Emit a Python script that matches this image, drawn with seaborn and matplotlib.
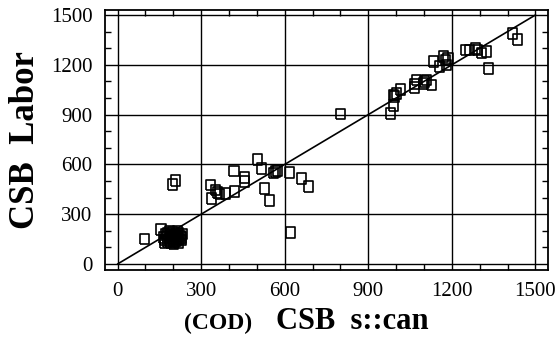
import numpy as np
import pandas as pd
import matplotlib
matplotlib.use("Agg")
import matplotlib.pyplot as plt
from matplotlib.ticker import MultipleLocator
import seaborn as sns

# COD values: s::can probe (x) vs. laboratory reference (y), mg/L
csb_scan = [
    98, 156, 165, 170, 175, 178, 180, 185, 185, 190, 192, 195, 198, 200, 203,
    205, 208, 210, 212, 215, 218, 220, 222, 225, 228, 230, 172, 188, 215, 232,
    168, 200, 197, 207,
    334, 337, 350, 358, 365, 389, 418, 421, 457, 457, 502, 517, 526, 544, 560,
    568, 575, 616, 660, 684, 622,
    800, 980, 992, 989, 995, 1001, 1015, 1067, 1067, 1073, 1097, 1103, 1109,
    1127, 1133, 1154, 1171, 1177, 1180, 1186, 1250, 1264, 1284, 1292, 1306,
    1325, 1330, 1419, 1435,
]
csb_labor = [
    151, 207, 160, 145, 170, 135, 185, 155, 140, 175, 130, 160, 190, 145, 170,
    135, 180, 155, 140, 165, 185, 130, 150, 170, 145, 160, 180, 195, 195, 180,
    130, 125, 480, 502,
    476, 396, 445, 432, 422, 426, 560, 436, 522, 496, 631, 577, 456, 384, 548,
    556, 562, 550, 516, 466, 191,
    904, 906, 955, 1018, 1008, 1028, 1050, 1064, 1084, 1108, 1088, 1099, 1108,
    1078, 1219, 1189, 1249, 1229, 1199, 1239, 1289, 1289, 1299, 1289, 1271,
    1279, 1179, 1388, 1354,
]
major_ticks = [0, 300, 600, 900, 1200, 1500]
identity = [0, 1500]

df = pd.DataFrame({"scan": csb_scan, "labor": csb_labor})

sns.set_theme(style="white")
plt.rcParams["font.family"] = ["Liberation Serif", "DejaVu Serif"]
plt.rcParams.update({"text.color": "black", "axes.labelcolor": "black",
                     "xtick.color": "black", "ytick.color": "black"})

fig = plt.figure(figsize=(5.6, 3.49), dpi=100)
ax = fig.add_axes([105 / 560, 1 - 270 / 349, 443 / 560, 260 / 349])

# slightly tall open rectangles as markers
rect = [(-0.43, -0.5), (0.43, -0.5), (0.43, 0.5), (-0.43, 0.5), (-0.43, -0.5)]
sns.scatterplot(data=df, x="scan", y="labor", ax=ax, marker=rect, s=58,
                facecolor="none", edgecolor="black", linewidth=1.2, zorder=3)
sns.lineplot(x=identity, y=identity, ax=ax, color="black", linewidth=1.2,
             zorder=2)

ax.set_xlim(-45, 1545)
ax.set_ylim(-36, 1530)
ax.set_xticks(major_ticks)
ax.set_yticks(major_ticks)
ax.set_xticklabels([str(t) for t in major_ticks])
ax.set_yticklabels([str(t) for t in major_ticks])
ax.xaxis.set_minor_locator(MultipleLocator(100))
ax.yaxis.set_minor_locator(MultipleLocator(100))
ax.grid(True, which="major", color="black", linewidth=1.0)
ax.tick_params(which="major", direction="in", length=0, pad=9,
               labelsize=15, colors="black", labelcolor="black",
               top=True, right=True)
ax.tick_params(which="minor", direction="in", length=4, width=1.0,
               color="black", top=True, right=True, bottom=True, left=True)
for sp in ax.spines.values():
    sp.set_visible(True)
    sp.set_color("black")
    sp.set_linewidth(1.3)

ax.set_xlabel("")
ax.set_ylabel("CSB  Labor", fontsize=25, fontweight="bold", color="black")
ax.yaxis.set_label_coords(-0.143, 0.5)

base = 1 - 329 / 349
fig.text(218 / 560, base, "(COD)", fontsize=17, fontweight="bold",
         ha="center", va="baseline", color="black")
fig.text(352 / 560, base, "CSB  s::can", fontsize=22, fontweight="bold",
         ha="center", va="baseline", color="black")

fig.savefig("out.png", dpi=100)
